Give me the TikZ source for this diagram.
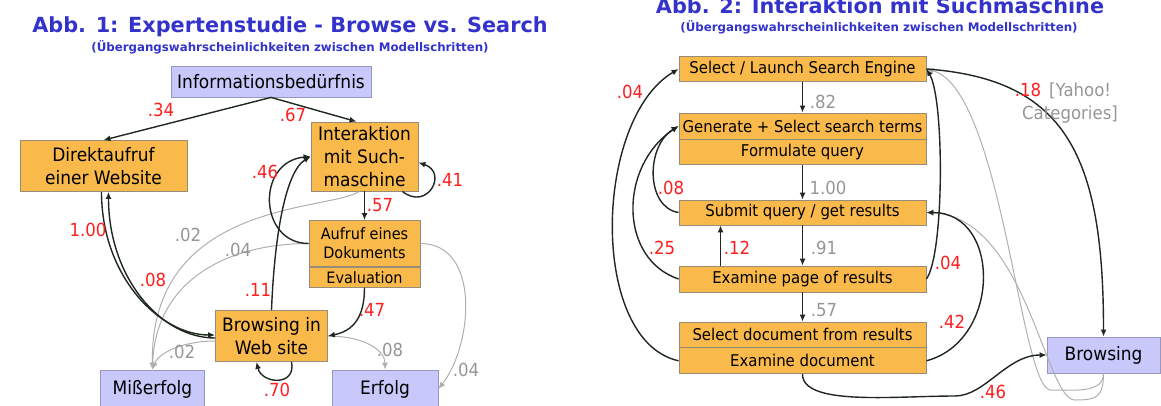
\documentclass[tikz,border=0pt]{standalone}
\usepackage{fontspec}
\setmainfont{DejaVu Sans}[FakeStretch=0.92]
\newfontfamily\titlefont{DejaVu Sans}
\usepackage{xcolor}
\usetikzlibrary{arrows.meta}
\usetikzlibrary{calc}

\definecolor{boxorange}{RGB}{249,185,75}
\definecolor{boxedge}{RGB}{150,140,120}
\definecolor{boxlav}{RGB}{200,200,250}
\definecolor{lavedge}{RGB}{150,150,190}
\definecolor{titleblue}{RGB}{51,51,204}
\definecolor{lblred}{RGB}{255,30,30}
\definecolor{lblgray}{RGB}{150,150,150}
\definecolor{linegray}{RGB}{175,175,175}
\definecolor{linedark}{RGB}{30,40,30}

\begin{document}
\begin{tikzpicture}[x=1pt,y=-1pt,
  obox/.style={draw=boxedge, fill=boxorange, line width=0.8pt, inner sep=0pt, align=center},
  lbox/.style={draw=lavedge, fill=boxlav, line width=0.8pt, inner sep=0pt, align=center},
  bigtext/.style={font=\fontsize{18.5}{23}\selectfont},
  smalltext/.style={font=\fontsize{15.7}{19}\selectfont},
  rowtext/.style={font=\fontsize{16.2}{19}\selectfont, minimum width=247pt},
  rlbl/.style={text=lblred, font=\fontsize{18}{20}\selectfont, inner sep=0pt},
  glbl/.style={text=lblgray, font=\fontsize{18}{20}\selectfont, inner sep=0pt},
  headline/.style={text=titleblue, font=\titlefont\bfseries\fontsize{20.8}{24}\selectfont, inner sep=0pt},
  subline/.style={text=titleblue, font=\titlefont\bfseries\fontsize{11.8}{14}\selectfont, inner sep=0pt},
  arr/.style={draw=linedark, line width=1.4pt, -{Latex[length=7pt,width=6pt]}},
  garr/.style={draw=linegray, line width=1pt, -{Latex[length=7pt,width=6pt]}}]

\useasboundingbox (0,0) rectangle (1161,405);

% Abb. 1
\node[headline, anchor=base] (titleA) at (290,32) {Abb. 1: Expertenstudie - Browse vs. Search};
\node[subline] (subA) at (290,47) {(Übergangswahrscheinlichkeiten zwischen Modellschritten)};

\node[lbox, bigtext, minimum width=200pt, minimum height=31pt] (info) at (271,81.5) {Informationsbedürfnis};
\node[obox, bigtext, minimum width=167pt, minimum height=51pt] (direkt) at (103.5,166) {Direktaufruf\\einer Website};
\node[obox, bigtext, minimum width=107pt, minimum height=69pt] (interakt) at (364.5,156.5) {Interaktion\\mit Such-\\maschine};
\node[obox, smalltext, minimum width=111pt, minimum height=46pt] (aufruf) at (364.5,243.5) {Aufruf eines\\Dokuments};
\node[obox, smalltext, minimum width=111pt, minimum height=20pt, anchor=north] (eval) at (aufruf.south) {Evaluation};
\node[obox, bigtext, minimum width=112pt, minimum height=51pt] (browse) at (271.5,336) {Browsing in\\Web site};
\node[lbox, bigtext, minimum width=104pt, minimum height=38pt] (miss) at (152.5,389) {Mißerfolg};
\node[lbox, bigtext, minimum width=106pt, minimum height=38pt] (erfolg) at (385,389) {Erfolg};

\draw[garr] ([xshift=-5pt]interakt.south) .. controls +(-30,20) and +(-3,-170) .. (miss.north);
\draw[garr] (aufruf.west) .. controls +(-80,0) and +(3,-90) .. (miss.north);
\draw[garr] ([yshift=-5pt]browse.west) .. controls +(-35,0) and +(5,-15) .. (miss.north);
\draw[garr] (browse.east) .. controls +(35,0) and +(0,-20) .. (erfolg.north);
\draw[garr] (aufruf.east) .. controls +(60,0) and +(35,-45) .. (erfolg.east);

\draw[arr] (info.south) -- (direkt.north);
\draw[arr] (info.south) -- ([xshift=-8pt]interakt.north);
\draw[arr] ([xshift=-16pt]interakt.south east) .. controls +(25,20) and +(30,10) .. ([yshift=-6pt]interakt.east);
\draw[arr] (interakt.south) -- (aufruf.north);
\draw[arr] (aufruf.west) .. controls +(-50,0) and +(-55,5) .. (interakt.west);
\draw[arr] (browse.north) .. controls +(3,-75) and +(-25,15) .. (interakt.west);
\draw[arr] (eval.south) .. controls +(0,30) and +(25,-5) .. (browse.east);
\draw[arr] ([xshift=-2pt]direkt.south) .. controls +(0,85) and +(-55,0) .. ([yshift=1pt]browse.west);
\draw[arr] ([yshift=-2pt]browse.west) .. controls +(-55,0) and +(0,85) .. ([xshift=5pt]direkt.south);
\draw[arr] ([xshift=20pt]browse.south) .. controls +(5,25) and +(5,22) .. ([xshift=-15pt]browse.south);

\node[rlbl] (p34) at (161,110) {.34};
\node[rlbl] (p67) at (293,115) {.67};
\node[rlbl] (p46) at (265,172) {.46};
\node[rlbl] (p41) at (450,180) {.41};
\node[rlbl] (p57) at (380,205) {.57};
\node[rlbl] (p100) at (88,230) {1.00};
\node[rlbl] (p08) at (153,280) {.08};
\node[rlbl] (p11) at (258,290) {.11};
\node[rlbl] (p47) at (372,310) {.47};
\node[rlbl] (p70) at (277,390) {.70};
\node[glbl] (g02a) at (188,235) {.02};
\node[glbl] (g04a) at (238,250) {.04};
\node[glbl] (g02b) at (182,352) {.02};
\node[glbl] (g08) at (390,350) {.08};
\node[glbl] (g04b) at (466,370) {.04};

% Abb. 2
\node[headline, anchor=base] (titleB) at (880,13) {Abb. 2: Interaktion mit Suchmaschine};
\node[subline] (subB) at (879,27) {(Übergangswahrscheinlichkeiten zwischen Modellschritten)};

\node[obox, rowtext, minimum height=25pt] (launch) at (802.5,69) {Select / Launch Search Engine};
\node[obox, rowtext, minimum height=26pt] (gen) at (802.5,126) {Generate + Select search terms};
\node[obox, rowtext, minimum height=25pt, anchor=north] (formq) at (gen.south) {Formulate query};
\node[obox, rowtext, minimum height=25pt] (submit) at (802.5,212.5) {Submit query / get results};
\node[obox, rowtext, minimum height=26pt] (exam) at (802.5,279) {Examine page of results};
\node[obox, rowtext, minimum height=25pt] (seldoc) at (802.5,334.5) {Select document from results};
\node[obox, rowtext, minimum height=26pt, anchor=north] (examdoc) at (seldoc.south) {Examine document};
\node[lbox, bigtext, minimum width=113pt, minimum height=36pt] (browsing) at (1103.5,355) {Browsing};

\coordinate (gA) at (1050,390);
\coordinate (gB) at (1075,400);
\draw[garr] (browsing.south) .. controls +(0,20) and +(25,0) .. (gA) .. controls +(-30,-5) and +(75,20) .. (launch.east);
\draw[garr] (browsing.south) .. controls +(0,25) and +(20,0) .. (gB) .. controls +(-30,0) and +(100,5) .. (submit.east);

\draw[arr] (launch.south) -- (gen.north);
\draw[arr] (formq.south) -- (submit.north);
\draw[arr] (submit.south) -- (exam.north);
\draw[arr] (exam.south) -- (seldoc.north);
\draw[arr] ([xshift=-82pt]exam.north) -- ([xshift=-82pt]submit.south);
\draw[arr] (submit.west) .. controls +(-33,-5) and +(-33,20) .. (gen.west);
\draw[arr] (exam.west) .. controls +(-60,-20) and +(-60,40) .. (gen.west);
\draw[arr] (examdoc.west) .. controls +(-90,-20) and +(-85,50) .. (launch.west);
\draw[arr] (exam.east) .. controls +(18,-25) and +(18,30) .. (launch.east);
\draw[arr] (examdoc.east) .. controls +(75,-20) and +(75,0) .. (submit.east);
\draw[arr] (launch.east) .. controls +(140,10) and +(0,-180) .. (browsing.north);
\coordinate (dip) at (955,396);
\draw[arr] (examdoc.south) .. controls +(0,32) and +(-60,0) .. (dip) .. controls +(30,0) and +(-40,0) .. (browsing.west);

\node[glbl] (q82) at (823,102) {.82};
\node[glbl] (q100) at (828,188) {1.00};
\node[glbl] (q91) at (824,248) {.91};
\node[glbl] (q57) at (824,310) {.57};
\node[rlbl] (r04a) at (630,92) {.04};
\node[rlbl] (r08) at (671,188) {.08};
\node[rlbl] (r25) at (662,248) {.25};
\node[rlbl] (r12) at (737,248) {.12};
\node[rlbl] (r04b) at (948,263) {.04};
\node[rlbl] (r42) at (952,322) {.42};
\node[rlbl] (r46) at (993,392) {.46};
\node[rlbl, anchor=base] (r18) at (1028,96.5) {.18};
\node[glbl, anchor=base west] (yahoo) at (1049,96.5) {[Yahoo!};
\node[glbl, anchor=base] (categ) at (1070,119.5) {Categories]};

\end{tikzpicture}
\end{document}
